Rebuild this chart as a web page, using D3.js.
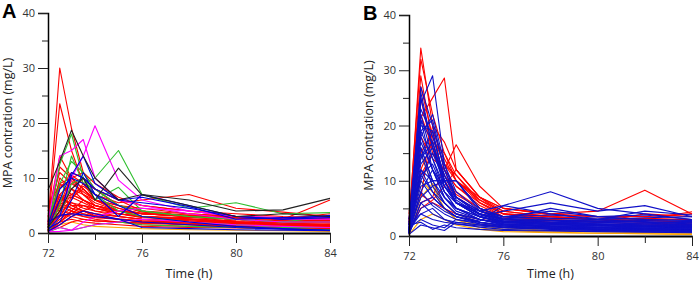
<!DOCTYPE html>
<html>
<head>
<meta charset="utf-8">
<script src="https://cdn.jsdelivr.net/npm/d3@7"></script>
<style>
  body { margin: 0; background: #fff; }
  svg { display: block; }
  .tick text { font-family: "Open Sans", sans-serif; fill: #333; }
</style>
</head>
<body>
<div id="viz"></div>
<script>
const width = 699;
const height = 282;

// sampling times (h)
const times = [72, 72.5, 73, 73.5, 74, 75, 76, 78, 80, 82, 84];
const xMajor = [72, 76, 80, 84];
const xMinor = [74, 78, 82];
const yMajor = [0, 10, 20, 30, 40];
const yMinor = [5, 15, 25, 35];

// Panel A concentration profiles (mg/L), one array per patient, grouped by colour
const aRed = [
  [2, 30, 19, 11, 8, 5, 4, 3, 2.5, 2, 1.8],
  [1.5, 23.5, 15, 9, 6, 4, 3, 2.5, 2, 1.5, 1.2],
  [3, 14, 10, 7, 5, 4, 3.5, 3, 2.5, 2, 2],
  [1, 8, 11, 10, 8, 6, 5, 4, 3, 2.5, 2.5],
  [0.5, 5, 10.5, 9, 7, 5.5, 6, 7, 4.5, 3.8, 3],
  [2, 9, 10, 8, 6, 5, 4.5, 3.5, 3, 2.5, 6],
  [4, 11, 9, 7.5, 6, 4.5, 3.5, 3, 2.5, 2, 2],
  [0.3, 3, 6, 9, 8, 6, 4, 3, 2, 1.5, 1.2],
  [0.5, 4, 5, 5, 4, 3, 2.5, 2, 1.5, 1.2, 1],
  [1, 6, 7, 6, 5, 4, 3, 2.5, 2, 1.8, 1.5],
  [2.5, 5, 4, 3.5, 3, 2.5, 2, 1.8, 1.5, 1.3, 1.2],
  [0.2, 2, 4, 6, 5, 3.5, 3, 2.5, 2, 1.5, 1.5],
  [3, 7, 9, 10, 8, 5, 4, 3, 2.5, 2, 2],
  [1, 10, 8, 6, 4.5, 3.5, 3, 2.5, 2, 1.5, 1.5],
  [0.5, 3.5, 3, 2.5, 2.2, 2, 1.8, 1.5, 1.2, 1, 1],
  [5, 4, 3.5, 3, 2.8, 2.5, 2.2, 2, 1.8, 1.5, 1.5],
  [0.8, 6, 8, 7, 6, 5, 4, 3.5, 3, 2.5, 2.2],
  [2, 4.5, 5.5, 4.5, 4, 3.5, 3, 2.8, 2.5, 2.2, 2],
  [0.1, 1.5, 3, 4, 3.5, 3, 2.5, 2, 1.8, 1.5, 1.3],
  [1.2, 8.5, 9.5, 7, 5.5, 4, 3, 2.2, 1.8, 1.5, 1.3],
  [3.5, 6.5, 5, 4, 3.5, 3, 2.5, 2.2, 1.9, 1.6, 1.4],
  [0.6, 2.5, 4, 3, 2.5, 2, 1.5, 1.2, 1, 0.8, 0.7],
  [1.5, 12, 10, 8, 6, 4, 3.5, 3, 2.5, 2.2, 2],
  [0.4, 7, 5, 4, 3, 2.5, 2, 1.8, 1.5, 1.2, 1],
  [2.2, 3, 6.5, 8, 6, 4.5, 3.5, 3, 2.5, 2, 2.5],
  [0.3, 1, 2, 2.5, 2.2, 2, 1.8, 1.6, 1.4, 1.2, 1],
  [1, 5.5, 4.5, 3.5, 3, 2.5, 2, 1.5, 1.2, 1, 0.8],
  [4.5, 9, 7, 6, 5, 4, 3.5, 3, 2.8, 2.5, 2.3],
  [0.8, 4, 10, 11, 9, 6.5, 5, 4, 3.5, 3, 2.8],
  [2, 3, 3.5, 4, 5, 4, 3.5, 3.2, 3, 2.8, 2.6],
  [0.5, 2, 2.5, 2, 1.8, 1.5, 1.2, 1, 0.9, 0.8, 0.7],
  [1.8, 6, 6.5, 5.5, 4.5, 3.5, 2.8, 2.4, 2, 1.8, 1.6],
  [0.2, 2, 3.5, 5, 4.5, 3.5, 3, 2.6, 2.2, 2, 1.9],
  [1.5, 4, 7, 8.5, 7, 5, 3.8, 3.2, 2.7, 2.4, 2.2],
  [0.4, 3, 4.5, 4, 3.2, 2.6, 2.2, 1.9, 1.7, 1.5, 1.4],
  [2.8, 6, 5.5, 5, 4.5, 4, 3.6, 3.2, 2.8, 2.6, 3.5]
];
const aGreen = [
  [1, 12.5, 18, 10, 7, 4, 3, 2, 1.5, 1, 1],
  [0.5, 5, 14, 9, 10, 15, 7, 4.5, 5.5, 3.5, 3.7],
  [0.3, 3, 9, 10, 6, 8.3, 4, 3, 2.5, 2, 2],
  [0.2, 1, 0.5, 1, 1.5, 2, 1.5, 1.2, 1, 0.8, 0.6],
  [2, 9, 13, 11, 8, 5, 4, 3, 2.5, 2, 3]
];
const aBlack = [
  [7.8, 13, 18.7, 14, 10, 6, 7, 6, 4, 4.2, 6.3],
  [1, 4, 8, 10, 6, 11.8, 6.9, 5, 3, 3.5, 3]
];
const aMagenta = [
  [0.5, 3, 10, 14, 19.5, 9.6, 6, 4, 3, 2.5, 2.5],
  [2, 14, 15, 17, 10, 6, 5, 3.5, 2.5, 2, 2],
  [0.3, 1, 0.5, 2, 3, 4, 4.5, 4, 3, 2.8, 2.8],
  [0.2, 0.3, 0.5, 1, 1.5, 2, 2.5, 2, 1.5, 1.2, 1]
];
const aBlue = [
  [1, 6, 11, 10, 8, 6, 5.5, 4.5, 3, 2.5, 3.2],
  [0.5, 3, 10.5, 14, 9, 6, 6.5, 4.8, 2.5, 2.8, 3],
  [2, 3.2, 3.5, 3.3, 3, 2.5, 2, 1.5, 1, 0.7, 0.5],
  [0.8, 2, 6, 11, 7, 5, 3, 2, 1.2, 0.8, 0.5],
  [1.5, 8, 10, 9, 7, 3, 7, 5, 3, 2.5, 2.8],
  [0.3, 1.5, 3, 4, 3.5, 2.5, 1, 0.8, 0.6, 0.5, 0.4]
];
const aOrange = [
  [0.3, 1.5, 2, 1.5, 1.2, 1, 0.8, 0.6, 0.5, 0.4, 0.3]
];

// Panel B concentration profiles (mg/L)
const bOrange = [
  [0.3, 10, 8, 5, 3, 2, 1.2, 0.9, 0.8, 0.7, 0.6],
  [0.5, 7, 9.5, 6, 4, 2.5, 1.5, 1, 0.8, 0.6, 0.5],
  [0.2, 3, 4, 3, 2, 1.2, 0.8, 0.6, 0.5, 0.4, 0.3],
  [1, 15, 9, 5, 3, 1.5, 1, 0.7, 0.5, 0.4, 0.3]
];
const bRed = [
  [2, 34, 20, 12, 9, 6, 4, 3.5, 3, 2.5, 2],
  [3, 32, 22, 15, 10, 6.5, 4.5, 3.5, 3, 2.8, 2.5],
  [1, 27, 18, 13, 10, 7, 5, 4, 3.5, 3, 3],
  [4, 21.4, 25, 28.6, 12, 7, 4, 3.5, 3, 3.2, 3],
  [2, 18, 14, 12, 16.5, 9, 5, 3.8, 3.5, 3.5, 4],
  [1.5, 7, 20, 17, 12, 7, 5, 4, 4.5, 8.3, 4],
  [0.5, 6, 7, 13, 11, 6.5, 4, 3, 2.5, 3, 4.4],
  [1, 5, 6.5, 9, 12, 7, 4.5, 3.5, 3, 2.8, 2.5],
  [2.5, 25, 15, 11, 8, 5, 3, 2.5, 2, 2, 1.8],
  [1, 15, 19, 14, 10, 6, 3.5, 2.8, 2.5, 2.2, 2],
  [3, 11, 15, 12, 9, 5.5, 3.5, 3, 2.5, 4, 3.5],
  [0.8, 22, 16, 10, 7, 4.5, 3, 2.5, 2, 1.8, 1.5],
  [4.5, 7.5, 6, 5, 4, 3, 2.5, 2.2, 2, 1.8, 1.6],
  [2, 29, 17, 11, 7.5, 5, 3.5, 3, 2.7, 2.5, 2.3],
  [1, 12, 17, 15, 11, 6, 4, 3.2, 3, 2.8, 3]
];
const bBlue = [
  [1, 26, 16, 9, 6, 3.5, 2.5, 2, 1.8, 1.6, 1.5],
  [2, 24, 29, 13, 7, 4, 3, 2.5, 2.2, 2, 1.8],
  [0.5, 22, 14, 8, 5, 3, 2, 1.8, 1.6, 1.4, 1.2],
  [1.5, 20, 19, 10, 6, 3.5, 2.5, 2.2, 2, 1.8, 1.7],
  [3, 18, 12, 8, 6, 4.5, 5.5, 8, 5, 4, 3],
  [1, 16, 10, 7, 5, 3.5, 4.5, 6, 4.5, 5.5, 3.5],
  [0.5, 15, 9, 6, 4, 2.5, 1.8, 1.4, 1.2, 1, 0.9],
  [2, 14, 17, 9, 6, 3.5, 2.2, 1.8, 1.5, 1.3, 1.2],
  [1, 12, 10, 10, 10, 4.5, 3, 5, 3.5, 3.8, 3],
  [0.8, 11, 8, 6, 4, 3, 2.2, 1.8, 1.6, 1.5, 1.4],
  [2.5, 10, 7, 5, 3.5, 2.5, 2, 1.6, 1.4, 1.3, 1.2],
  [1, 8, 12, 7, 5, 3.5, 2.5, 2.2, 2, 1.8, 1.7],
  [0.5, 6, 7, 5, 3.5, 2.5, 1.8, 1.5, 1.2, 1.1, 1],
  [1.5, 3, 2, 1.5, 3, 2.5, 2, 1.7, 1.5, 1.3, 1.2],
  [0.3, 2, 1.5, 1, 2.5, 2, 1.5, 1.2, 1, 0.9, 0.8],
  [2, 4, 5, 3, 2.5, 2, 1.8, 1.5, 1.3, 1.2, 1],
  [1, 19, 21, 12, 7, 4.5, 3.5, 3.2, 3, 3.3, 3.5],
  [3, 25, 16, 11, 7, 4.5, 3.5, 4.5, 3.5, 3, 2.8],
  [0.8, 13, 16, 10, 6, 4, 3, 2.7, 2.5, 2.3, 2.1],
  [1.2, 9, 10, 10, 10, 5, 3.5, 3.2, 3, 4.5, 3.8],
  [0.5, 21, 12, 7, 4.5, 3, 2.2, 1.8, 1.6, 1.4, 1.3],
  [2, 17, 12, 9, 7, 4, 3, 2.8, 2.9, 2.8, 2.6],
  [1, 7, 9, 10, 6, 4, 2.5, 2.2, 1.9, 1.7, 1.6],
  [0.5, 5, 6, 4.5, 3.5, 2.2, 1.6, 1.3, 1.1, 1, 0.9],
  [1.5, 23, 18, 11, 6.5, 3.8, 2.7, 2.3, 2.1, 2, 2],
  [0.6, 12, 8, 5, 3.5, 2.7, 5.5, 4, 3, 2.5, 2.2],
  [2, 16, 10, 6, 4, 3, 2.5, 2.2, 1.9, 1.7, 1.6],
  [0.4, 8, 5.5, 4, 3, 2.2, 1.6, 1.4, 1.2, 1.1, 1],
  [1, 14, 19, 10, 6, 3.5, 2.7, 2.5, 2.4, 2.2, 2],
  [2.5, 19, 14, 9, 6, 4, 3.2, 2.9, 2.7, 2.6, 2.4],
  [0.7, 11, 13, 8, 5, 3, 2.2, 2, 1.9, 1.8, 1.6],
  [1.2, 4, 3, 2.5, 2.2, 1.8, 1.5, 1.3, 1.1, 1, 0.9],
  [0.5, 27, 20, 12, 7, 4, 2.8, 2.4, 2.2, 2, 1.9],
  [1, 18, 22, 13, 8, 4.5, 3.2, 2.8, 2.6, 2.5, 2.4],
  [2, 2.5, 1.2, 2, 1.5, 1.2, 1, 0.9, 0.8, 0.7, 0.6],
  [0.8, 10, 15, 10, 6, 3.5, 2.5, 2.2, 2, 1.9, 1.8],
  [1.5, 21, 17, 10, 10, 5, 3.5, 3.8, 3.2, 3, 2.8],
  [0.3, 6, 4, 3, 2.2, 1.6, 1.2, 1, 0.9, 0.8, 0.7]
];

const svg = d3.select('#viz')
  .append('svg')
    .attr('width', width)
    .attr('height', height);

const drawPanel = (cfg) => {
  const x = d3.scaleLinear().domain([72, 84]).range([cfg.left, cfg.right]);
  const y = d3.scaleLinear().domain([0, 40]).range([cfg.bottom, cfg.top]);

  const g = svg.append('g');

  const line = d3.line()
    .defined(d => d != null)
    .x((d, i) => x(times[i]))
    .y(d => y(d));

  // lines, drawn group by group so later colours sit on top
  cfg.groups.forEach(grp => {
    g.append('g')
      .selectAll('path')
      .data(grp.data)
      .join('path')
        .attr('d', line)
        .attr('fill', 'none')
        .attr('stroke', grp.color)
        .attr('stroke-width', 1.1)
        .attr('stroke-linejoin', 'round');
  });

  // y axis
  const yAx = g.append('g')
    .attr('transform', `translate(${cfg.left},0)`)
    .call(d3.axisLeft(y).tickValues(yMajor).tickSize(10).tickPadding(3));
  yAx.selectAll('text').style('font-size', '11px');
  yAx.select('.domain').attr('stroke-width', 1.5);
  g.append('g')
    .attr('transform', `translate(${cfg.left},0)`)
    .call(d3.axisLeft(y).tickValues(yMinor).tickSize(6).tickFormat(''))
    .select('.domain').remove();

  // x axis
  const xAx = g.append('g')
    .attr('transform', `translate(0,${cfg.bottom})`)
    .call(d3.axisBottom(x).tickValues(xMajor).tickSize(10).tickPadding(6).tickSizeOuter(0));
  xAx.selectAll('text').style('font-size', '11px');
  xAx.select('.domain').attr('stroke-width', 2.2);
  g.append('g')
    .attr('transform', `translate(0,${cfg.bottom})`)
    .call(d3.axisBottom(x).tickValues(xMinor).tickSize(7).tickFormat(''))
    .select('.domain').remove();

  g.selectAll('.tick line').attr('stroke', '#222');

  // axis titles
  g.append('text')
    .attr('x', (cfg.left + cfg.right) / 2)
    .attr('y', 278)
    .attr('text-anchor', 'middle')
    .style('font-family', '"Open Sans", sans-serif')
    .style('font-size', '12.5px')
    .attr('fill', '#222')
    .text('Time (h)');

  g.append('text')
    .attr('transform', `translate(${cfg.left - 36},${(cfg.top + cfg.bottom) / 2}) rotate(-90)`)
    .attr('text-anchor', 'middle')
    .style('font-family', '"Open Sans", sans-serif')
    .style('font-size', '12.5px')
    .attr('fill', '#222')
    .text('MPA contration (mg/L)');

  // panel letter
  g.append('text')
    .attr('x', cfg.left - 46)
    .attr('y', cfg.top + 5)
    .style('font-family', '"Liberation Sans", Arial, sans-serif')
    .style('font-weight', 'bold')
    .style('font-size', '20px')
    .attr('fill', '#000')
    .text(cfg.label);
};

drawPanel({
  label: 'A', left: 48, right: 330, top: 13, bottom: 233,
  groups: [
    {data: aOrange, color: '#ffa500'},
    {data: aRed, color: '#ff0000'},
    {data: aGreen, color: '#2fbf2f'},
    {data: aMagenta, color: '#ff00ff'},
    {data: aBlue, color: '#0000dd'},
    {data: aBlack, color: '#222222'}
  ]
});

drawPanel({
  label: 'B', left: 409, right: 692, top: 15, bottom: 236,
  groups: [
    {data: bRed, color: '#ff0000'},
    {data: bOrange, color: '#ffa500'},
    {data: bBlue, color: '#1010c8'}
  ]
});
</script>
</body>
</html>
